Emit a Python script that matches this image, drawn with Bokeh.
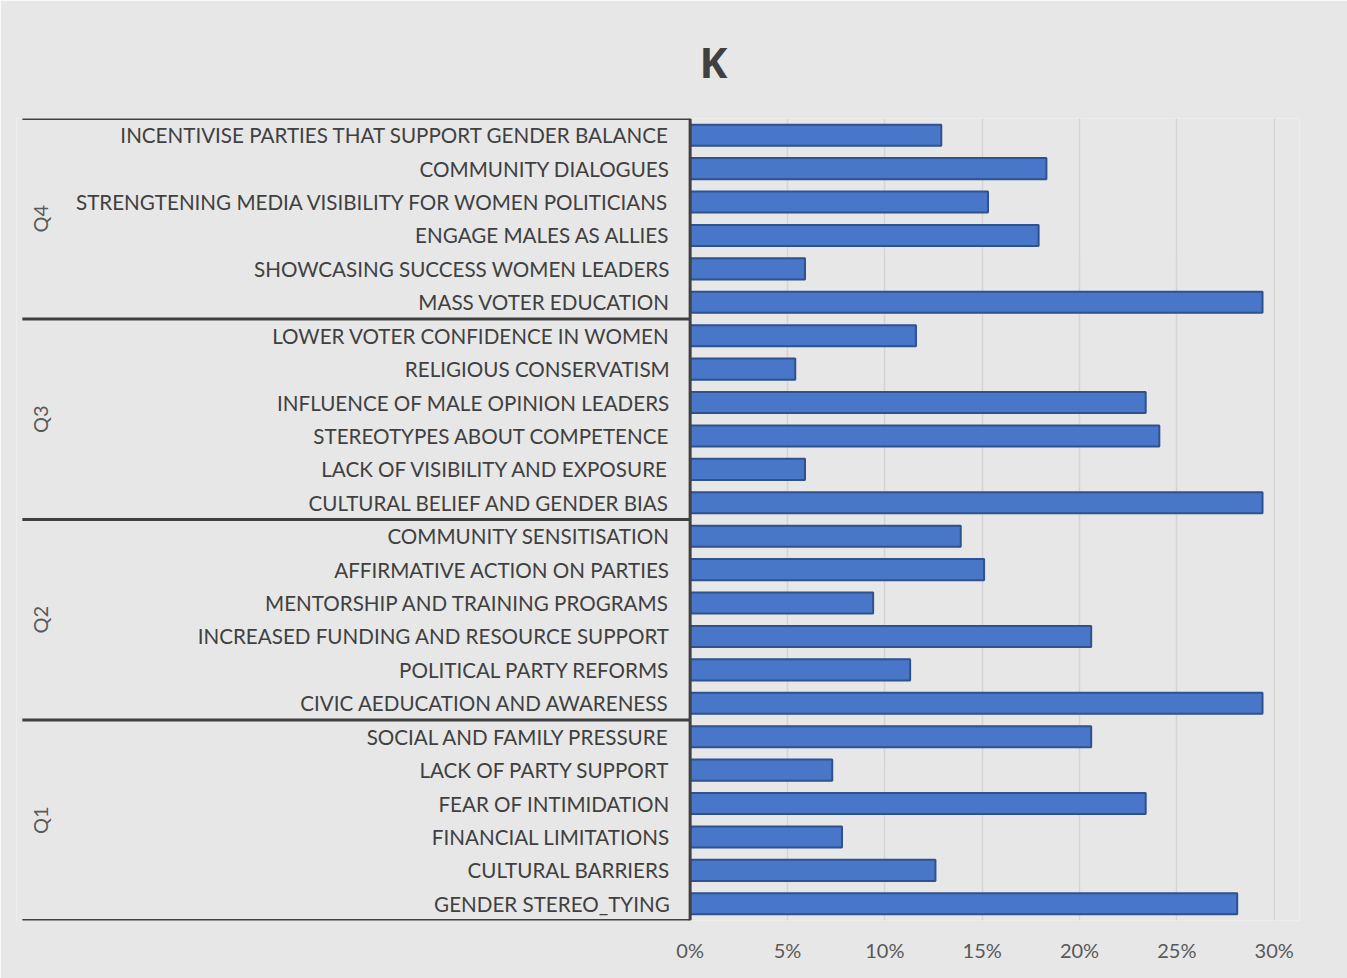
import math
from bokeh.plotting import figure
from bokeh.models import ColumnDataSource, FixedTicker, NumeralTickFormatter, Range1d
from bokeh.core.properties import value
from bokeh.embed import file_html
from bokeh.resources import INLINE

# ---- data (bottom to top) ----
groups = ["Q1", "Q2", "Q3", "Q4"]
q1_labels = ["GENDER STEREO_TYING", "CULTURAL BARRIERS", "FINANCIAL LIMITATIONS",
             "FEAR OF INTIMIDATION", "LACK OF PARTY SUPPORT", "SOCIAL AND FAMILY PRESSURE"]
q1_values = [0.281, 0.126, 0.078, 0.234, 0.073, 0.206]
q2_labels = ["CIVIC AEDUCATION AND AWARENESS", "POLITICAL PARTY REFORMS",
             "INCREASED FUNDING AND RESOURCE SUPPORT", "MENTORSHIP AND TRAINING PROGRAMS",
             "AFFIRMATIVE ACTION ON PARTIES", "COMMUNITY SENSITISATION"]
q2_values = [0.294, 0.113, 0.206, 0.094, 0.151, 0.139]
q3_labels = ["CULTURAL BELIEF AND GENDER BIAS", "LACK OF VISIBILITY AND EXPOSURE",
             "STEREOTYPES ABOUT COMPETENCE", "INFLUENCE OF MALE OPINION LEADERS",
             "RELIGIOUS CONSERVATISM", "LOWER VOTER CONFIDENCE IN WOMEN"]
q3_values = [0.294, 0.059, 0.241, 0.234, 0.054, 0.116]
q4_labels = ["MASS VOTER EDUCATION", "SHOWCASING SUCCESS WOMEN LEADERS",
             "ENGAGE MALES AS ALLIES", "STRENGTENING MEDIA VISIBILITY FOR WOMEN POLITICIANS",
             "COMMUNITY DIALOGUES", "INCENTIVISE PARTIES THAT SUPPORT GENDER BALANCE"]
q4_values = [0.294, 0.059, 0.179, 0.153, 0.183, 0.129]
x_ticks = [0, 0.05, 0.10, 0.15, 0.20, 0.25, 0.30]

labels = q1_labels + q2_labels + q3_labels + q4_labels
values = q1_values + q2_values + q3_values + q4_values
ypos = [i + 0.5 for i in range(len(labels))]
n_per = len(q1_labels)

TEXT = "#404040"
LABEL_FONT = "Lato"

p = figure(width=1347, height=978, output_backend="svg", toolbar_location=None,
           x_range=Range1d(-0.346, 0.313), y_range=Range1d(0, len(labels)),
           min_border_left=16, min_border_right=48, min_border_top=118, min_border_bottom=58)

bg = "#e7e7e7"
p.background_fill_color = bg
p.border_fill_color = bg
p.outline_line_color = None

# title
p.title.text = "K"
p.title.align = "left"
p.title.offset = 683
p.title.standoff = 57
p.title.text_font = "Open Sans"
p.title.text_font_size = "42px"
p.title.text_font_style = "bold"
p.title.text_color = TEXT

# axes
p.yaxis.visible = False
p.xaxis.ticker = FixedTicker(ticks=x_ticks)
p.xaxis.formatter = NumeralTickFormatter(format="0%")
p.xaxis.axis_line_color = None
p.xaxis.major_tick_line_color = None
p.xaxis.minor_tick_line_color = None
p.xaxis.major_label_standoff = 11
p.xaxis.major_label_text_font = LABEL_FONT
p.xaxis.major_label_text_font_size = "20px"
p.xaxis.major_label_text_color = "#595959"

p.xgrid.ticker = FixedTicker(ticks=x_ticks)
p.xgrid.grid_line_color = "#d4d4d4"
p.xgrid.grid_line_width = 1.5
p.ygrid.grid_line_color = None

# bars
src = ColumnDataSource(dict(y=ypos, v=values, lab=labels))
p.hbar(y="y", left=0, right="v", height=0.63, source=src,
       fill_color="#4876C8", line_color="#2F528F", line_width=2)

# category labels
p.text(x=-0.0105, y="y", text="lab", source=src, text_align="right", text_baseline="middle",
       text_font=value(LABEL_FONT), text_font_size="20.6px", text_color=TEXT)

# group separators and vertical axis line
bounds = [i * n_per for i in range(len(groups) + 1)]
p.segment(x0=[-0.343] * len(bounds), x1=[0] * len(bounds), y0=bounds, y1=bounds,
          line_color="#404040", line_width=3)
p.segment(x0=[0], x1=[0], y0=[0], y1=[len(labels)], line_color="#404040", line_width=3)

# group labels
gy = [i * n_per + n_per / 2 for i in range(len(groups))]
p.text(x=[-0.3338] * len(groups), y=gy, text=groups, angle=math.pi / 2,
       text_align="center", text_baseline="middle",
       text_font=value(LABEL_FONT), text_font_size="20px", text_color="#595959")

open("out.html", "w").write(file_html(p, INLINE))
